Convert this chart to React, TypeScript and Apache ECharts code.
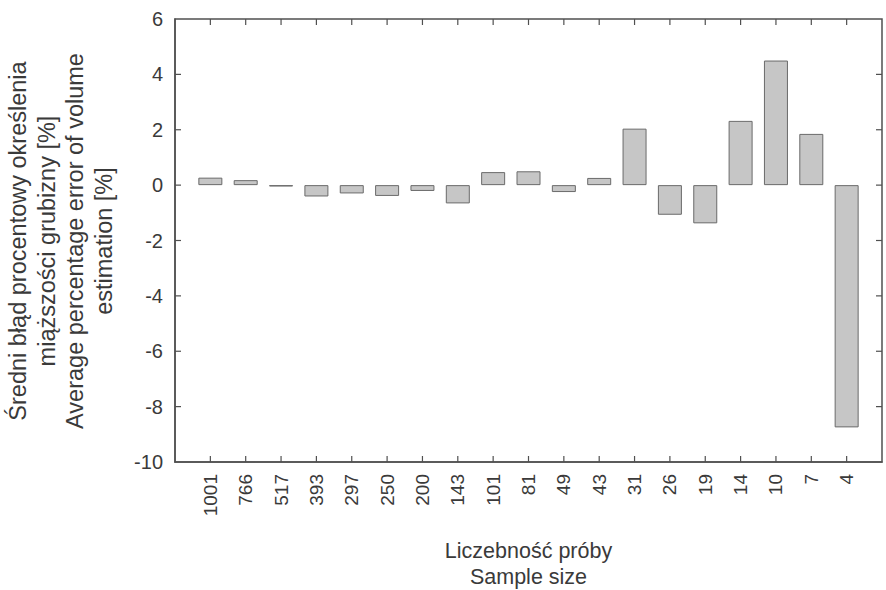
import React, { useEffect, useRef } from "react";
import * as echarts from "echarts";

const categories = ["1001", "766", "517", "393", "297", "250", "200", "143", "101", "81", "49", "43", "31", "26", "19", "14", "10", "7", "4"];
const errorValues = [0.27, 0.18, -0.05, -0.41, -0.3, -0.39, -0.21, -0.66, 0.47, 0.5, -0.25, 0.26, 2.04, -1.07, -1.38, 2.32, 4.5, 1.85, -8.75];
const yMin = -10;
const yMax = 6;
const yInterval = 2;
const yInnerTicks = [-8, -6, -4, -2, 0, 2, 4];
const xTitle = "Liczebność próby\nSample size";
const yTitle = "Średni błąd procentowy określenia\nmiąższości grubizny [%]\nAverage percentage error of volume\nestimation [%]";

const FONT = "'Liberation Sans', Arial, sans-serif";
const AXIS_COLOR = "#505050";
const TEXT_COLOR = "#3a3a3a";
const TICK_LEN = 6;

export default function App() {
  const ref = useRef<HTMLDivElement>(null);
  useEffect(() => {
    if (!ref.current) return;
    const chart = echarts.init(ref.current, null, { renderer: "svg" });
    const xMax = categories.length + 1;
    const data = errorValues.map((v, i) => [i + 1, v]);
    const titleGraphic = {
      type: "text",
      x: 61,
      y: 241,
      rotation: Math.PI / 2,
      style: {
        text: yTitle,
        fontSize: 23.5,
        lineHeight: 28.5,
        fontFamily: FONT,
        fill: TEXT_COLOR,
        align: "center",
        verticalAlign: "middle",
      },
    };
    chart.setOption({
      animation: false,
      backgroundColor: "#ffffff",
      textStyle: { fontFamily: FONT },
      grid: {
        left: 175,
        top: 19,
        right: 4,
        bottom: 128,
        containLabel: false,
        outerBoundsMode: "none",
        show: true,
        borderColor: AXIS_COLOR,
        borderWidth: 1.5,
        backgroundColor: "transparent",
      },
      xAxis: {
        type: "value",
        min: 0,
        max: xMax,
        interval: 1,
        position: "bottom",
        axisLine: { show: true, onZero: false, lineStyle: { color: AXIS_COLOR, width: 1.5 } },
        axisTick: { show: false },
        splitLine: { show: false },
        axisLabel: {
          show: true,
          rotate: 90,
          fontSize: 19,
          color: TEXT_COLOR,
          fontFamily: FONT,
          margin: 12,
          formatter: (v: number) => categories[v - 1] ?? "",
        },
        name: xTitle,
        nameLocation: "middle",
        nameGap: 76,
        nameTextStyle: { fontSize: 21.5, color: TEXT_COLOR, fontFamily: FONT, lineHeight: 26 },
      },
      yAxis: {
        type: "value",
        min: yMin,
        max: yMax,
        interval: yInterval,
        position: "left",
        axisLine: { show: true, onZero: false, lineStyle: { color: AXIS_COLOR, width: 1.5 } },
        axisTick: { show: false },
        splitLine: { show: false },
        axisLabel: { fontSize: 20, color: TEXT_COLOR, fontFamily: FONT, margin: 12 },
      },
      graphic: [titleGraphic],
      series: [
        {
          type: "bar",
          data,
          barWidth: 24,
          itemStyle: { color: "#c6c6c6", borderColor: "#6a6a6a", borderWidth: 1 },
        },
      ],
    });

    // Inward tick marks on all four sides, positioned through the chart's own scales.
    const tickStyle = { stroke: AXIS_COLOR, lineWidth: 1.2 };
    const ticks: any[] = [];
    categories.forEach((_, i) => {
      const b = chart.convertToPixel({ gridIndex: 0 }, [i + 1, yMin]) as number[];
      const t = chart.convertToPixel({ gridIndex: 0 }, [i + 1, yMax]) as number[];
      ticks.push({ type: "line", z: 100, silent: true, shape: { x1: b[0], y1: b[1], x2: b[0], y2: b[1] - TICK_LEN }, style: tickStyle });
      ticks.push({ type: "line", z: 100, silent: true, shape: { x1: t[0], y1: t[1], x2: t[0], y2: t[1] + TICK_LEN }, style: tickStyle });
    });
    yInnerTicks.forEach((v) => {
      const l = chart.convertToPixel({ gridIndex: 0 }, [0, v]) as number[];
      const r = chart.convertToPixel({ gridIndex: 0 }, [xMax, v]) as number[];
      ticks.push({ type: "line", z: 100, silent: true, shape: { x1: l[0], y1: l[1], x2: l[0] + TICK_LEN, y2: l[1] }, style: tickStyle });
      ticks.push({ type: "line", z: 100, silent: true, shape: { x1: r[0], y1: r[1], x2: r[0] - TICK_LEN, y2: r[1] }, style: tickStyle });
    });
    chart.setOption({ graphic: [titleGraphic, ...ticks] }, { replaceMerge: ["graphic"] });

    return () => chart.dispose();
  }, []);
  return <div ref={ref} style={{ width: 886, height: 590, position: "absolute", left: 0, top: 0 }} />;
}
